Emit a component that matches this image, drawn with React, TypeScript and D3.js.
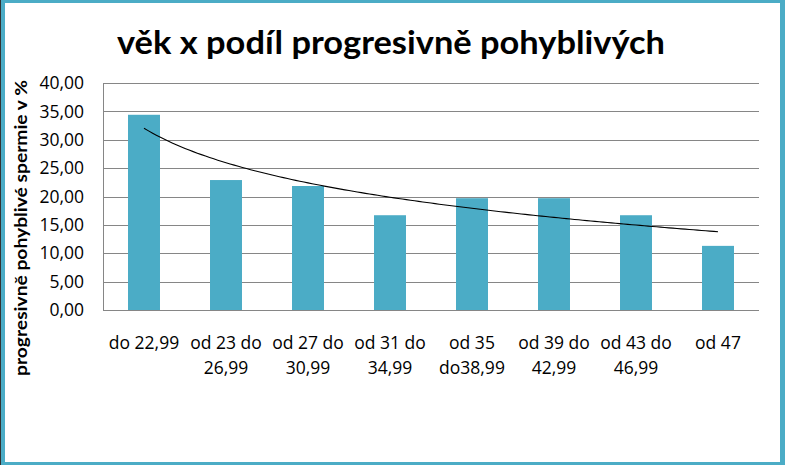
import React from "react";
import * as d3 from "d3";

const categories: string[][] = [
  ["do 22,99"],
  ["od 23 do", "26,99"],
  ["od 27 do", "30,99"],
  ["od 31 do", "34,99"],
  ["od 35", "do38,99"],
  ["od 39 do", "42,99"],
  ["od 43 do", "46,99"],
  ["od 47"],
];
const values: number[] = [34.4, 22.9, 21.85, 16.7, 19.7, 19.7, 16.7, 11.3];
const yTicks: number[] = [0, 5, 10, 15, 20, 25, 30, 35, 40];

const title = "věk x podíl progresivně pohyblivých";
const yTitle = "progresivně pohyblivé spermie v %";

const W = 785;
const H = 465;
const FONT = "Lato, 'Open Sans', sans-serif";
const FONT2 = "'Open Sans', sans-serif";
const BLUE = "#4BACC6";

export default function App() {
  const left = 103, right = 759, top = 83, bottom = 310;
  const x = d3
    .scaleBand<number>()
    .domain(values.map((_, i) => i))
    .range([left, right])
    .paddingInner(0.61)
    .paddingOuter(0.305);
  const y = d3.scaleLinear().domain([0, 40]).range([bottom, top]);
  const fmt = (v: number) => v.toFixed(2).replace(".", ",");

  // logarithmic trendline (least squares on ln(x))
  const lx = values.map((_, i) => Math.log(i + 1));
  const mx = d3.mean(lx)!;
  const my = d3.mean(values)!;
  const b =
    d3.sum(lx.map((l, i) => (l - mx) * (values[i] - my))) /
    d3.sum(lx.map((l) => (l - mx) * (l - mx)));
  const a = my - b * mx;
  const steps = d3.range(0, 7.0001, 0.05);
  const trend = d3
    .line<number>()
    .x((t) => x(0)! + x.bandwidth() / 2 + t * x.step())
    .y((t) => y(a + b * Math.log(t + 1)))
    .curve(d3.curveLinear)(steps);

  return (
    <svg
      width={W}
      height={H}
      style={{ position: "absolute", left: 0, top: 0, display: "block" }}
    >
      <rect x={0} y={0} width={W} height={H} fill={BLUE} />
      <rect x={0} y={0} width={1} height={H} fill="#333" />
      <rect x={5} y={3} width={775} height={459} fill="#fff" />
      <text
        x={391}
        y={54}
        textAnchor="middle"
        fontFamily={FONT}
        fontWeight="bold"
        fontSize={32}
        textLength={548}
        lengthAdjust="spacingAndGlyphs"
        fill="#000"
      >
        {title}
      </text>
      {yTicks.map((t) => (
        <g key={t}>
          <line
            x1={left}
            x2={right}
            y1={Math.round(y(t)) + 0.5}
            y2={Math.round(y(t)) + 0.5}
            stroke="#868686"
            strokeWidth={1}
          />
          <text
            x={84}
            y={y(t)}
            dy="0.35em"
            textAnchor="end"
            fontFamily={FONT2}
            fontSize={17.5}
            fill="#000"
          >
            {fmt(t)}
          </text>
        </g>
      ))}
      <line x1={left + 0.5} x2={left + 0.5} y1={top} y2={bottom} stroke="#868686" />
      {values.map((v, i) => (
        <rect
          key={i}
          x={x(i)!}
          y={y(v)}
          width={x.bandwidth()}
          height={y(0) - y(v)}
          fill={BLUE}
        />
      ))}
      <line
        x1={left}
        x2={right}
        y1={Math.round(y(0)) + 0.5}
        y2={Math.round(y(0)) + 0.5}
        stroke="#868686"
      />
      <path d={trend || ""} fill="none" stroke="#000" strokeWidth={1.1} />
      {categories.map((lines, i) => (
        <text
          key={i}
          x={x(i)! + x.bandwidth() / 2}
          y={349}
          textAnchor="middle"
          fontFamily={FONT2}
          fontSize={17.5}
          fill="#000"
        >
          {lines.map((l, j) => (
            <tspan key={j} x={x(i)! + x.bandwidth() / 2} dy={j === 0 ? 0 : 25}>
              {l}
            </tspan>
          ))}
        </text>
      ))}
      <text
        transform={`translate(27, 228) rotate(-90)`}
        textAnchor="middle"
        fontFamily={FONT}
        fontWeight="bold"
        fontSize={17}
        textLength={296}
        lengthAdjust="spacingAndGlyphs"
        fill="#000"
      >
        {yTitle}
      </text>
    </svg>
  );
}
